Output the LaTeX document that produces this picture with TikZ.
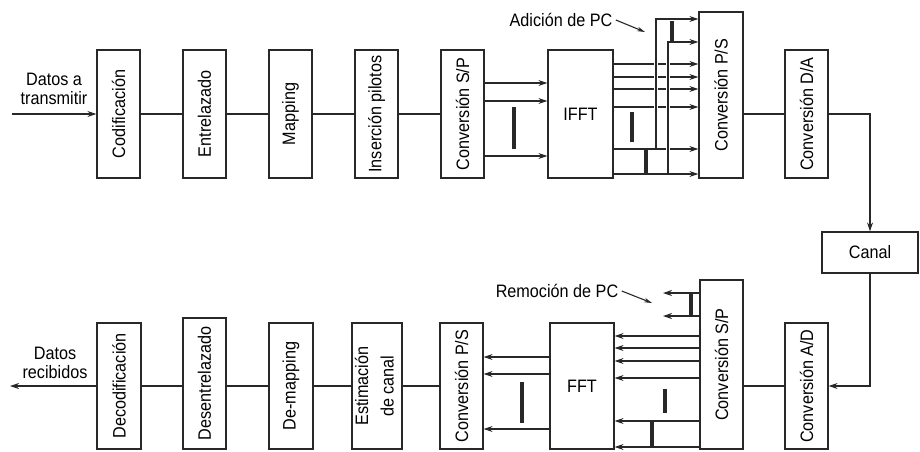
\documentclass[tikz,border=0pt]{standalone}
\usepackage{fontspec}
\setmainfont{Liberation Sans}[FakeStretch=0.9]
\usetikzlibrary{arrows.meta,positioning,calc}
\definecolor{LineGray}{RGB}{40,40,40}

\begin{document}
\begin{tikzpicture}[x=1pt,y=-1pt,font=\fontsize{18}{18.5}\selectfont,
  blk/.style={draw=LineGray,line width=1.2pt,minimum width=43pt,minimum height=128pt,inner sep=0pt},
  wire/.style={draw=LineGray,line width=1.1pt},
  arr/.style={wire,-{Stealth[length=9pt,width=6pt]}},
  bar/.style={draw=LineGray,line width=3.4pt},
  hop/.style={preaction={draw=white,line width=3.5pt,-,shorten <=1.5pt,shorten >=2pt}}]
  \useasboundingbox (0,0) rectangle (920,451);

  % transmisor
  \node[blk] (cod) at (118.5,114) {\rotatebox{90}{Codificación}};
  \node[blk] (ent) at (204.5,114) {\rotatebox{90}{Entrelazado}};
  \node[blk] (map) at (290.5,114) {\rotatebox{90}{Mapping}};
  \node[blk] (ins) at (376.5,114) {\rotatebox{90}{Inserción pilotos}};
  \node[blk] (sp1) at (462.5,114) {\rotatebox{90}{Conversión S/P}};
  \node[blk,minimum width=65pt] (ifft) at (580.5,114) {IFFT};
  \node[blk,minimum width=44pt,minimum height=166pt] (ps1) at (721,95) {\rotatebox{90}{Conversión P/S}};
  \node[blk] (da) at (806.5,114) {\rotatebox{90}{Conversión D/A}};
  \node[blk,minimum width=96pt,minimum height=41pt] (canal) at (870,252.5) {Canal};

  % receptor
  \node[blk,minimum width=44pt,minimum height=126pt] (dec) at (119,386) {\rotatebox{90}{Decodificación}};
  \node[blk,minimum height=131pt] (des) at (204.5,383.5) {\rotatebox{90}{Desentrelazado}};
  \node[blk,minimum width=44pt,minimum height=126pt] (dem) at (291,386) {\rotatebox{90}{De-mapping}};
  \node[blk,minimum width=50pt,minimum height=126pt] (est) at (377,386) {\rotatebox{90}{\begin{tabular}{@{}c@{}}Estimación\\[7pt]de canal\end{tabular}}};
  \node[blk,minimum height=126pt] (ps2) at (461.5,386) {\rotatebox{90}{Conversión P/S}};
  \node[blk,minimum width=64pt,minimum height=126pt] (fft) at (582,386) {FFT};
  \node[blk,minimum height=169pt] (sp2) at (721.5,364.5) {\rotatebox{90}{Conversión S/P}};
  \node[blk,minimum height=126pt] (ad) at (806.5,386) {\rotatebox{90}{Conversión A/D}};

  \node[align=center] (txin) at (54,89) {Datos a\\transmitir};
  \node[align=center] (txout) at (55,363) {Datos\\recibidos};
  \node (adpc) at (561,20) {Adición de PC};
  \node (rmpc) at (557,291) {Remoción de PC};

  \coordinate (in) at (12,114);
  \coordinate (out) at (10,386);
  \coordinate (adtip) at (645,32);
  \coordinate (rmtip) at (652,303);
  \coordinate (tap1) at (656,149);
  \coordinate (tap2) at (668,174);
  \coordinate (rm1) at (663,293);
  \coordinate (rm2) at (663,316);

  \draw[arr] (in) -- (cod.west);
  \draw[wire] (cod.east) -- (ent.west);
  \draw[wire] (ent.east) -- (map.west);
  \draw[wire] (map.east) -- (ins.west);
  \draw[wire] (ins.east) -- (sp1.west);
  \foreach \y in {83,101,156}
    \draw[arr] (sp1.east |- 0,\y) -- (ifft.west |- 0,\y);
  \foreach \y in {64,77,89,107,149,174}
    \draw[arr] (ifft.east |- 0,\y) -- (ps1.west |- 0,\y);
  \draw[arr,hop] (tap1) |- (ps1.west |- 0,19);
  \draw[arr,hop] (tap2) |- (ps1.west |- 0,42);
  \draw[wire] (ps1.east |- da.west) -- (da.west);
  \draw[arr] (da.east) -| (canal.north);
  \draw[arr] (canal.south) |- (ad.east);
  \draw[wire] (ad.west) -- (sp2.east |- ad.west);
  \draw[arr] (sp2.west |- rm1) -- (rm1);
  \draw[arr] (sp2.west |- rm2) -- (rm2);
  \foreach \y in {336,348,361,378,421,447}
    \draw[arr] (sp2.west |- 0,\y) -- (fft.east |- 0,\y);
  \foreach \y in {357,374,429}
    \draw[arr] (fft.west |- 0,\y) -- (ps2.east |- 0,\y);
  \draw[wire] (ps2.west) -- (est.east);
  \draw[wire] (est.west) -- (dem.east);
  \draw[wire] (dem.west) -- (des.east |- dem.west);
  \draw[wire] (des.west |- dec.east) -- (dec.east);
  \draw[arr] (dec.west) -- (out);

  \draw[wire,-{Stealth[length=8pt,width=4.5pt]}] (adpc.east) -- (adtip);
  \draw[wire,-{Stealth[length=8pt,width=4.5pt]}] (rmpc.east) -- (rmtip);

  % puntos suspensivos
  \draw[bar] (514,107) -- (514,149);
  \draw[bar] (632,112) -- (632,142);
  \draw[bar] (646,150) -- (646,174);
  \draw[bar] (672,21) -- (672,42);
  \draw[bar] (691,293) -- (691,316);
  \draw[bar] (665,389) -- (665,413);
  \draw[bar] (652,421) -- (652,447);
  \draw[bar] (522,382) -- (522,423);
\end{tikzpicture}
\end{document}
